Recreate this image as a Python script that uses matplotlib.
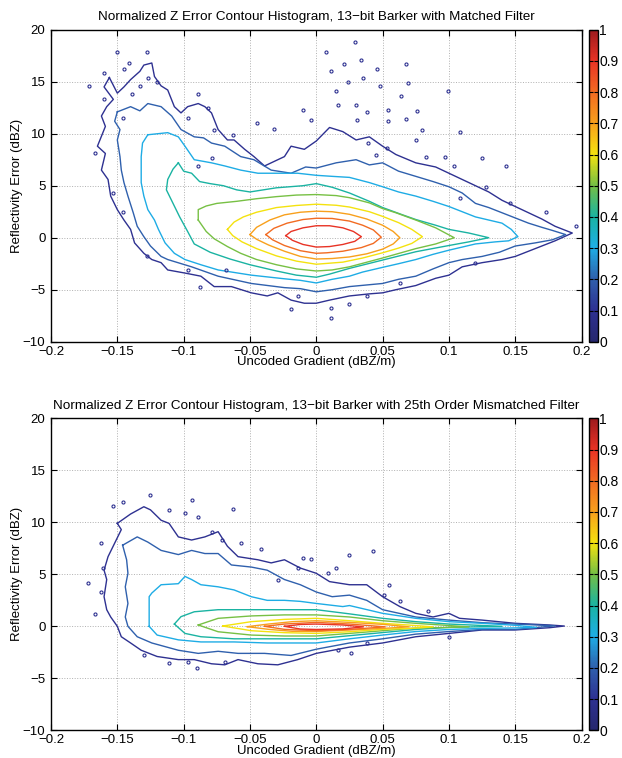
import numpy as np
import matplotlib
matplotlib.use('Agg')
import matplotlib.pyplot as plt
from matplotlib.colors import LinearSegmentedColormap, Normalize
from matplotlib.cm import ScalarMappable

plt.rcParams['font.family'] = ['Liberation Sans', 'DejaVu Sans']

# contour levels of the normalized histogram
levels = [0.1, 0.2, 0.3, 0.4, 0.5, 0.6, 0.7, 0.8, 0.9]

# ---- top panel: 13-bit Barker, matched filter (contour vertices)
top_90 = [(-0.023, 0.2), (-0.019, 0.6), (-0.01, 0.95), (0.0, 1.15), (0.01, 1.15), (0.02, 0.95), (0.028, 0.6),
          (0.034, 0.1), (0.029, -0.35), (0.02, -0.65), (0.01, -0.85), (0.0, -0.9), (-0.01, -0.65), (-0.018, -0.25)]
top_80 = [(-0.038, 0.3), (-0.032, 0.9), (-0.022, 1.4), (-0.01, 1.75), (0.0, 1.87), (0.012, 1.85), (0.025, 1.6),
          (0.035, 1.2), (0.043, 0.75), (0.049, 0.05), (0.043, -0.55), (0.034, -0.95), (0.02, -1.3), (0.008, -1.45),
          (0.0, -1.5), (-0.012, -1.25), (-0.024, -0.75), (-0.033, -0.2)]
top_70 = [(-0.05, 0.3), (-0.045, 1.0), (-0.035, 1.7), (-0.024, 2.2), (-0.012, 2.45), (0.0, 2.55), (0.012, 2.5),
          (0.025, 2.25), (0.038, 1.8), (0.05, 1.2), (0.058, 0.6), (0.063, 0.0), (0.058, -0.6), (0.05, -1.1),
          (0.038, -1.55), (0.025, -1.85), (0.012, -2.0), (0.0, -2.05), (-0.012, -1.8), (-0.024, -1.3),
          (-0.036, -0.7), (-0.045, -0.15)]
top_60 = [(-0.067, 0.8), (-0.062, 1.5), (-0.055, 2.0), (-0.045, 2.45), (-0.03, 2.9), (-0.015, 3.1), (0.0, 3.22),
          (0.015, 3.12), (0.025, 2.95), (0.04, 2.5), (0.05, 2.05), (0.062, 1.45), (0.072, 0.8), (0.08, 0.1),
          (0.072, -0.55), (0.062, -1.0), (0.05, -1.45), (0.035, -1.95), (0.02, -2.35), (0.0, -2.55),
          (-0.015, -2.25), (-0.03, -1.75), (-0.045, -1.05), (-0.056, -0.4), (-0.063, 0.2)]
top_50 = [(-0.089, 1.7), (-0.089, 2.7), (-0.083, 3.05), (-0.075, 3.3), (-0.06, 3.5), (-0.045, 3.75), (-0.03, 3.95),
          (-0.015, 4.1), (0.0, 4.15), (0.015, 4.05), (0.025, 3.85), (0.04, 3.35), (0.05, 2.8), (0.06, 2.4),
          (0.075, 1.7), (0.09, 0.95), (0.104, 0.0), (0.09, -0.6), (0.075, -1.05), (0.05, -1.95), (0.025, -2.8),
          (0.012, -3.1), (0.0, -3.2), (-0.015, -3.0), (-0.03, -2.6), (-0.045, -2.1), (-0.057, -1.5),
          (-0.067, -0.85), (-0.077, -0.1), (-0.083, 0.6)]
top_40 = [(-0.104, 7.2), (-0.1, 6.4), (-0.094, 6.2), (-0.088, 5.4), (-0.08, 5.2), (-0.07, 5.0), (-0.06, 4.6),
          (-0.05, 4.4), (-0.04, 4.6), (-0.03, 4.8), (-0.02, 4.9), (-0.01, 5.0), (0.0, 5.2), (0.012, 4.85),
          (0.025, 4.3), (0.04, 3.5), (0.05, 2.9), (0.065, 2.2), (0.075, 1.75), (0.09, 1.2), (0.1, 0.8),
          (0.115, 0.45), (0.13, 0.0), (0.115, -0.4), (0.1, -0.75), (0.075, -1.35), (0.05, -2.15), (0.025, -2.95),
          (0.01, -3.5), (0.0, -3.8), (-0.015, -3.6), (-0.03, -3.2), (-0.05, -2.6), (-0.065, -2.05), (-0.08, -1.4),
          (-0.092, -0.6), (-0.097, 0.6), (-0.103, 2.0), (-0.108, 3.3), (-0.113, 4.6), (-0.112, 5.6), (-0.108, 6.6)]
top_30 = [(-0.127, 9.9), (-0.112, 10.1), (-0.104, 9.7), (-0.099, 8.8), (-0.092, 7.5), (-0.079, 7.2), (-0.069, 6.9),
          (-0.057, 6.5), (-0.044, 6.2), (-0.029, 6.2), (-0.014, 6.2), (0.0, 6.0), (0.012, 5.9), (0.025, 5.8),
          (0.04, 5.3), (0.05, 4.9), (0.062, 4.4), (0.075, 4.0), (0.088, 3.5), (0.1, 3.0), (0.11, 2.5), (0.12, 2.0),
          (0.13, 1.7), (0.14, 1.4), (0.147, 0.8), (0.152, 0.1), (0.145, -0.3), (0.135, -0.4), (0.12, -0.6),
          (0.11, -0.9), (0.1, -1.2), (0.088, -1.6), (0.075, -2.1), (0.062, -2.5), (0.05, -2.85), (0.035, -3.3),
          (0.025, -3.7), (0.012, -4.0), (0.0, -4.35), (-0.012, -4.1), (-0.024, -3.95), (-0.049, -3.6),
          (-0.074, -3.1), (-0.087, -2.6), (-0.099, -2.1), (-0.107, -1.5), (-0.114, -0.5), (-0.119, 0.8),
          (-0.122, 1.7), (-0.127, 2.7), (-0.13, 4.0), (-0.132, 5.3), (-0.132, 7.8), (-0.131, 9.1)]
top_20 = [(-0.15, 12.1), (-0.14, 12.6), (-0.133, 12.2), (-0.127, 12.9), (-0.117, 12.6), (-0.109, 11.7),
          (-0.102, 10.4), (-0.092, 9.7), (-0.085, 9.6), (-0.079, 9.1), (-0.069, 8.8), (-0.057, 7.8), (-0.047, 7.5),
          (-0.034, 6.5), (-0.019, 6.2), (-0.008, 6.8), (0.0, 6.7), (0.015, 7.2), (0.03, 7.5), (0.04, 7.0),
          (0.05, 7.2), (0.062, 6.4), (0.075, 5.9), (0.088, 5.4), (0.1, 4.9), (0.11, 4.3), (0.12, 3.3), (0.13, 2.9),
          (0.14, 2.4), (0.15, 1.9), (0.16, 1.4), (0.17, 1.0), (0.178, 0.7), (0.188, 0.3), (0.178, -0.2),
          (0.165, -0.5), (0.15, -0.8), (0.138, -1.4), (0.125, -1.8), (0.11, -2.1), (0.1, -2.4), (0.088, -3.0),
          (0.075, -3.7), (0.062, -4.0), (0.05, -4.4), (0.025, -4.7), (0.012, -5.0), (0.0, -5.2), (-0.012, -4.9),
          (-0.024, -4.8), (-0.049, -4.4), (-0.074, -3.7), (-0.094, -2.8), (-0.112, -2.1), (-0.117, -1.8),
          (-0.125, -0.8), (-0.13, 0.1), (-0.135, 1.1), (-0.138, 2.4), (-0.142, 4.0), (-0.145, 5.3), (-0.147, 6.5),
          (-0.148, 7.8), (-0.15, 9.4), (-0.148, 10.4), (-0.152, 11.2)]
top_10 = [(-0.156, 15.4), (-0.15, 13.9), (-0.145, 14.5), (-0.14, 15.2), (-0.133, 16.0), (-0.13, 16.6),
          (-0.124, 16.8), (-0.122, 15.5), (-0.117, 14.6), (-0.112, 14.2), (-0.107, 12.6), (-0.102, 12.0),
          (-0.097, 12.6), (-0.089, 12.9), (-0.084, 12.6), (-0.079, 12.0), (-0.074, 10.4), (-0.067, 9.4),
          (-0.062, 9.4), (-0.054, 8.5), (-0.047, 7.8), (-0.039, 6.9), (-0.034, 7.2), (-0.024, 7.8), (-0.019, 8.8),
          (-0.009, 8.5), (0.0, 9.3), (0.01, 10.6), (0.02, 10.2), (0.03, 9.4), (0.04, 9.7), (0.05, 8.8),
          (0.06, 8.0), (0.075, 7.2), (0.09, 6.8), (0.1, 6.2), (0.11, 5.6), (0.12, 5.0), (0.13, 4.4), (0.14, 3.6),
          (0.15, 3.0), (0.16, 2.4), (0.17, 1.8), (0.18, 1.1), (0.193, 0.45), (0.18, -0.3), (0.17, -0.8),
          (0.16, -1.3), (0.15, -1.8), (0.14, -2.1), (0.125, -2.4), (0.11, -2.8), (0.1, -3.6), (0.09, -3.9),
          (0.075, -4.6), (0.06, -5.0), (0.05, -5.3), (0.04, -5.4), (0.025, -5.6), (0.01, -6.0), (0.0, -6.3),
          (-0.009, -6.3), (-0.019, -6.0), (-0.029, -5.3), (-0.037, -5.6), (-0.049, -5.3), (-0.064, -4.7),
          (-0.077, -4.7), (-0.087, -3.7), (-0.099, -3.4), (-0.112, -3.1), (-0.117, -2.4), (-0.124, -2.1),
          (-0.13, -1.5), (-0.137, -0.5), (-0.14, 0.8), (-0.145, 1.7), (-0.15, 2.7), (-0.155, 4.0), (-0.157, 5.6),
          (-0.162, 6.5), (-0.159, 8.1), (-0.165, 8.8), (-0.159, 10.7), (-0.162, 11.7), (-0.158, 12.6),
          (-0.153, 13.3), (-0.16, 14.5)]
# small isolated 0.1 islands
top_isl = [(-0.150, 17.9), (-0.128, 17.9), (-0.141, 16.8), (-0.145, 16.2), (-0.160, 15.8), (-0.171, 14.6),
           (-0.127, 15.4), (-0.120, 15.0), (-0.133, 14.6), (-0.139, 13.8), (-0.160, 13.3), (-0.146, 11.5),
           (-0.089, 13.8), (-0.097, 11.5), (-0.082, 12.5), (-0.077, 10.4), (-0.063, 9.9), (-0.079, 7.7),
           (-0.089, 6.9), (-0.167, 8.1), (-0.153, 4.3), (-0.146, 2.5), (-0.128, -1.8), (-0.097, -3.1),
           (-0.088, -4.7), (-0.068, -3.1), (-0.014, -5.6), (-0.019, -6.9), (-0.010, 12.3), (-0.004, 11.3),
           (-0.032, 10.5), (-0.045, 11.0), (0.029, 18.8), (0.0075, 17.9), (0.021, 16.7), (0.034, 17.1),
           (0.046, 16.2), (0.068, 16.7), (0.011, 16.0), (0.024, 15.0), (0.035, 15.4), (0.015, 14.1), (0.048, 14.6),
           (0.069, 14.9), (0.099, 14.1), (0.064, 13.6), (0.076, 12.2), (0.016, 12.8), (0.030, 12.8), (0.038, 12.1),
           (0.054, 12.3), (0.068, 11.4), (0.031, 11.3), (0.054, 11.2), (0.080, 10.4), (0.108, 10.2), (0.075, 9.4),
           (0.039, 9.1), (0.053, 8.6), (0.045, 8.0), (0.097, 7.8), (0.104, 6.9), (0.125, 7.7), (0.143, 6.9),
           (0.083, 7.8), (0.108, 3.8), (0.128, 4.9), (0.146, 3.3), (0.173, 2.5), (0.196, 1.1), (0.120, -2.4),
           (0.063, -4.4), (0.038, -5.6), (0.025, -6.4), (0.011, -6.8), (0.011, -7.7)]

# ---- bottom panel: 13-bit Barker, 25th order mismatched filter
bot_90 = [(-0.024, 0.0), (-0.012, 0.18), (0.0, 0.22), (0.02, 0.13), (0.0355, -0.05), (0.02, -0.25), (0.0, -0.3),
          (-0.012, -0.26)]
bot_80 = [(-0.039, 0.0), (-0.024, 0.22), (0.0, 0.38), (0.025, 0.22), (0.052, -0.05), (0.025, -0.3), (0.0, -0.42),
          (-0.024, -0.29)]
bot_70 = [(-0.052, -0.03), (-0.036, 0.22), (-0.018, 0.45), (0.0, 0.54), (0.025, 0.38), (0.05, 0.19), (0.07, -0.05),
          (0.05, -0.2), (0.025, -0.35), (0.0, -0.5), (-0.018, -0.48), (-0.036, -0.29)]
bot_60 = [(-0.0705, 0.03), (-0.049, 0.45), (-0.024, 0.67), (0.0, 0.77), (0.025, 0.54), (0.05, 0.29), (0.07, 0.12),
          (0.088, -0.05), (0.07, -0.2), (0.05, -0.29), (0.025, -0.52), (0.0, -0.68), (-0.024, -0.61),
          (-0.049, -0.42)]
bot_50 = [(-0.089, 0.13), (-0.074, 0.77), (-0.049, 1.0), (-0.024, 1.1), (0.0, 1.1), (0.025, 0.9), (0.05, 0.54),
          (0.075, 0.29), (0.095, 0.12), (0.115, -0.05), (0.095, -0.12), (0.075, -0.16), (0.05, -0.42),
          (0.025, -0.68), (0.0, -0.93), (-0.024, -0.93), (-0.049, -0.84), (-0.074, -0.52)]
bot_40 = [(-0.107, 0.22), (-0.102, 0.93), (-0.092, 1.4), (-0.074, 1.6), (-0.049, 1.6), (-0.024, 1.6), (0.0, 1.6),
          (0.025, 1.2), (0.05, 0.77), (0.075, 0.45), (0.1, 0.22), (0.14, 0.0), (0.1, -0.1), (0.075, -0.3),
          (0.05, -0.6), (0.025, -0.9), (0.0, -1.2), (-0.037, -1.2), (-0.062, -1.2), (-0.087, -1.0), (-0.099, -0.68)]
bot_30 = [(-0.126, 0.0), (-0.126, 2.85), (-0.124, 3.2), (-0.117, 4.0), (-0.104, 4.1), (-0.099, 4.8), (-0.094, 4.5),
          (-0.087, 4.0), (-0.074, 3.8), (-0.062, 3.5), (-0.049, 2.85), (-0.037, 2.5), (-0.024, 2.5), (-0.012, 2.4),
          (0.0, 2.2), (0.02, 1.9), (0.025, 2.0), (0.05, 1.25), (0.075, 0.77), (0.1, 0.45), (0.125, 0.29),
          (0.15, 0.1), (0.166, -0.1), (0.15, -0.15), (0.125, -0.2), (0.1, -0.3), (0.075, -0.5), (0.05, -0.84),
          (0.025, -1.2), (0.0, -1.6), (-0.037, -1.6), (-0.062, -1.5), (-0.087, -1.5), (-0.104, -1.3),
          (-0.12, -0.84)]
bot_20 = [(-0.146, 7.8), (-0.135, 8.6), (-0.127, 8.1), (-0.117, 7.3), (-0.104, 6.9), (-0.094, 7.3), (-0.084, 7.0),
          (-0.074, 7.0), (-0.064, 5.9), (-0.049, 5.7), (-0.037, 5.4), (-0.024, 4.5), (-0.012, 4.0), (0.0, 3.3),
          (0.012, 2.85), (0.025, 3.0), (0.038, 2.5), (0.05, 1.6), (0.075, 0.9), (0.1, 0.6), (0.125, 0.35),
          (0.15, 0.22), (0.18, 0.05), (0.15, -0.3), (0.125, -0.3), (0.1, -0.5), (0.075, -0.75), (0.05, -1.2),
          (0.025, -1.6), (0.0, -2.2), (-0.019, -2.8), (-0.039, -2.6), (-0.059, -2.6), (-0.074, -2.4),
          (-0.089, -2.6), (-0.104, -2.3), (-0.124, -1.6), (-0.135, -1.0), (-0.142, 0.0), (-0.144, 0.9),
          (-0.142, 2.2), (-0.144, 3.8), (-0.142, 5.1), (-0.143, 6.4)]
bot_10 = [(-0.15, 9.9), (-0.14, 10.8), (-0.13, 11.5), (-0.125, 11.2), (-0.117, 10.2), (-0.111, 9.9), (-0.104, 8.6),
          (-0.094, 8.3), (-0.084, 8.6), (-0.074, 9.1), (-0.067, 7.7), (-0.059, 6.7), (-0.044, 6.4), (-0.034, 6.1),
          (-0.024, 6.4), (-0.012, 5.6), (0.0, 5.1), (0.01, 4.3), (0.025, 4.0), (0.038, 4.0), (0.05, 2.85),
          (0.063, 1.9), (0.075, 1.25), (0.088, 0.9), (0.1, 1.25), (0.108, 0.77), (0.125, 0.6), (0.15, 0.29),
          (0.176, 0.13), (0.187, 0.03), (0.176, -0.13), (0.15, -0.35), (0.125, -0.35), (0.1, -0.68), (0.075, -1.0),
          (0.05, -1.6), (0.025, -2.0), (0.0, -2.6), (-0.014, -3.2), (-0.029, -3.7), (-0.044, -3.6), (-0.059, -3.2),
          (-0.069, -3.7), (-0.079, -3.6), (-0.092, -3.2), (-0.104, -3.2), (-0.12, -2.9), (-0.132, -2.3),
          (-0.14, -1.6), (-0.147, -1.0), (-0.15, 0.0), (-0.155, 0.9), (-0.158, 1.6), (-0.16, 2.85), (-0.158, 4.5),
          (-0.16, 5.4), (-0.157, 6.7), (-0.152, 8.0), (-0.147, 9.3)]
bot_isl = [(-0.146, 12.0), (-0.125, 12.6), (-0.153, 11.6), (-0.111, 11.2), (-0.099, 10.9), (-0.089, 10.5),
           (-0.094, 12.1), (-0.063, 11.3), (-0.079, 9.1), (-0.071, 8.3), (-0.057, 8.0), (-0.042, 7.4),
           (-0.162, 8.0), (-0.161, 5.6), (-0.172, 4.2), (-0.162, 3.3), (-0.167, 1.2), (-0.004, 6.5),
           (-0.014, 5.6), (-0.029, 4.5), (-0.13, -2.8), (-0.111, -3.5), (-0.097, -3.4), (-0.069, -3.4),
           (-0.09, -4.0), (0.025, 6.9), (0.043, 7.2), (0.015, 5.6), (0.009, 5.1), (0.055, 4.0), (0.051, 3.0),
           (0.063, 2.4), (0.084, 1.5), (0.1, -1.0), (0.038, -1.6), (0.026, -2.6), (0.016, -2.3), (-0.01, 6.6)]

top_contours = [top_10, top_20, top_30, top_40, top_50, top_60, top_70, top_80, top_90]
bot_contours = [bot_10, bot_20, bot_30, bot_40, bot_50, bot_60, bot_70, bot_80, bot_90]

titles = ['Normalized Z Error Contour Histogram, 13\u2212bit Barker with Matched Filter',
          'Normalized Z Error Contour Histogram, 13\u2212bit Barker with 25th Order Mismatched Filter']
xticks = [-0.2, -0.15, -0.1, -0.05, 0, 0.05, 0.1, 0.15, 0.2]
xticklabels = ['\u22120.2', '\u22120.15', '\u22120.1', '\u22120.05', '0', '0.05', '0.1', '0.15', '0.2']
yticks = [-10, -5, 0, 5, 10, 15, 20]
yticklabels = ['\u221210', '\u22125', '0', '5', '10', '15', '20']
cbticks = [0, 0.1, 0.2, 0.3, 0.4, 0.5, 0.6, 0.7, 0.8, 0.9, 1]
cbticklabels = ['0', '0.1', '0.2', '0.3', '0.4', '0.5', '0.6', '0.7', '0.8', '0.9', '1']

# printed-looking jet
cmap = LinearSegmentedColormap.from_list('pjet', [
    (0.0, '#26276e'), (0.1, '#2e3192'), (0.2, '#2f60ad'), (0.3, '#1eaee6'), (0.4, '#1ab3a2'),
    (0.5, '#74bf45'), (0.6, '#f4e20f'), (0.7, '#f8a11c'), (0.8, '#f26b22'), (0.9, '#e93425'), (1.0, '#9e1a1e')])
norm = Normalize(0, 1)

fig = plt.figure(figsize=(6.22, 7.58), dpi=100)
panels = [(0.5492, top_contours, top_isl), (0.0365, bot_contours, bot_isl)]

for i, (bottom, contours, islands) in enumerate(panels):
    ax = fig.add_axes([0.082, bottom, 0.853, 0.4116])
    cax = fig.add_axes([0.9465, bottom, 0.0145, 0.4116])

    for lev, pts in zip(levels, contours):
        xy = np.array(pts + [pts[0]])
        ax.plot(xy[:, 0], xy[:, 1], color=cmap(norm(lev)), lw=1.0)
    isl = np.array(islands)
    ax.plot(isl[:, 0], isl[:, 1], 'o', ms=2.2, mfc='none', mec=cmap(norm(0.1)), mew=0.8)

    ax.set_xlim(-0.2, 0.2)
    ax.set_ylim(-10, 20)
    ax.set_xticks(xticks)
    ax.set_xticklabels(xticklabels)
    ax.set_yticks(yticks)
    ax.set_yticklabels(yticklabels)
    ax.tick_params(direction='in', top=True, right=True, length=4, width=0.8, labelsize=9.5)
    ax.tick_params(axis='x', pad=3)
    ax.tick_params(axis='y', pad=4)
    ax.grid(True, linestyle=':', color='#b0b0b0', lw=0.7)
    for s in ax.spines.values():
        s.set_linewidth(1.0)
    ax.set_title(titles[i], fontsize=9.7, pad=7)
    ax.set_xlabel('Uncoded Gradient (dBZ/m)', fontsize=9.5, labelpad=-1)
    ax.set_ylabel('Reflectivity Error (dBZ)', fontsize=9.5, labelpad=0)

    cb = fig.colorbar(ScalarMappable(norm=norm, cmap=cmap), cax=cax)
    cb.set_ticks(cbticks)
    cb.set_ticklabels(cbticklabels)
    cb.ax.tick_params(direction='in', left=True, right=True, length=3, width=0.8, labelsize=10, pad=1)
    cb.outline.set_linewidth(1.0)

fig.savefig('out.png', dpi=100)
